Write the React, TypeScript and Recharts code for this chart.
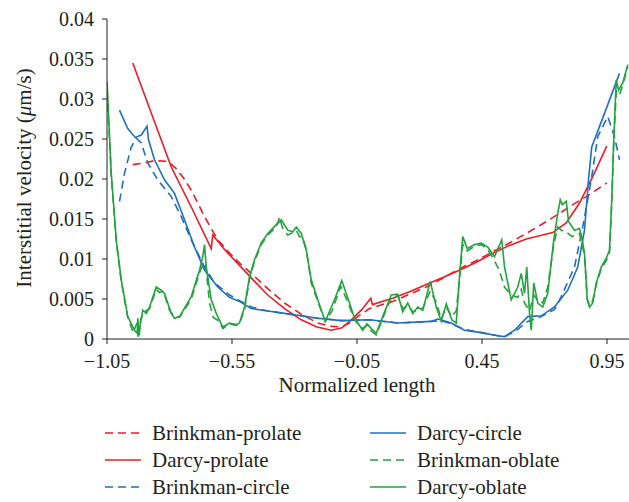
import { LineChart, Line, XAxis, YAxis, Label } from "recharts"

const RED = "#ec1c24"
const BLUE = "#1f6fbf"
const GREEN = "#22a33e"
const FONT = "'Liberation Serif', 'Times New Roman', serif"

const xTicks = [-1.05, -0.55, -0.05, 0.45, 0.95]
const yTicks = [0, 0.005, 0.01, 0.015, 0.02, 0.025, 0.03, 0.035, 0.04]

// Brinkman-prolate (red dashed)
const bpX = [-0.947, -0.9, -0.86, -0.807, -0.773, -0.743, -0.713, -0.687, -0.66, -0.633, -0.607, -0.567, -0.527, -0.473, -0.407, -0.34, -0.273, -0.207, -0.16, -0.113, -0.08, -0.047, 0.0, 0.093, 0.16, 0.227, 0.293, 0.36, 0.427, 0.493, 0.56, 0.627, 0.693, 0.76, 0.813, 0.867, 0.949]
const bpY = [0.0218, 0.022, 0.0223, 0.0222, 0.0213, 0.0201, 0.0186, 0.017, 0.0153, 0.0138, 0.0124, 0.011, 0.0097, 0.0082, 0.0063, 0.0045, 0.0031, 0.002, 0.0016, 0.0015, 0.002, 0.0028, 0.0038, 0.0047, 0.0056, 0.0065, 0.0076, 0.0088, 0.0098, 0.0109, 0.012, 0.0132, 0.0144, 0.0157, 0.0168, 0.0178, 0.0195]

// Darcy-prolate (red solid)
const dpX = [-0.947, -0.87, -0.793, -0.713, -0.633, -0.627, -0.58, -0.52, -0.46, -0.407, -0.34, -0.273, -0.21, -0.153, -0.11, -0.073, -0.03, 0.005, 0.012, 0.05, 0.093, 0.16, 0.227, 0.293, 0.36, 0.427, 0.493, 0.56, 0.627, 0.68, 0.733, 0.787, 0.84, 0.893, 0.949]
const dpY = [0.0345, 0.028, 0.0215, 0.0165, 0.0113, 0.013, 0.0112, 0.0092, 0.0072, 0.0055, 0.0038, 0.0024, 0.0015, 0.0011, 0.0014, 0.0024, 0.0037, 0.0051, 0.0043, 0.0047, 0.0051, 0.0059, 0.0068, 0.0077, 0.0086, 0.0096, 0.0107, 0.0117, 0.0125, 0.0129, 0.0133, 0.0145, 0.017, 0.0203, 0.0241]

// Brinkman-circle (blue dashed)
const bcX = [-1.0, -0.98, -0.953, -0.933, -0.913, -0.887, -0.847, -0.793, -0.753, -0.713, -0.66, -0.62, -0.56, -0.52, -0.473, -0.407, -0.34, -0.273, -0.207, -0.113, 0.0, 0.113, 0.247, 0.287, 0.327, 0.38, 0.447, 0.513, 0.54, 0.58, 0.633, 0.687, 0.74, 0.767, 0.82, 0.853, 0.887, 0.913, 0.953, 0.98, 1.0]
const bcY = [0.0172, 0.0207, 0.024, 0.0251, 0.0245, 0.022, 0.0199, 0.0178, 0.0153, 0.0124, 0.009, 0.007, 0.0055, 0.0048, 0.004, 0.0035, 0.0032, 0.0029, 0.0026, 0.0023, 0.0024, 0.002, 0.0022, 0.0023, 0.0019, 0.0012, 0.0008, 0.0004, 0.0003, 0.0009, 0.0022, 0.0028, 0.0037, 0.0053, 0.009, 0.014, 0.0199, 0.0253, 0.0278, 0.0253, 0.0224]

// Darcy-circle (blue solid)
const dcX = [-1.0, -0.967, -0.937, -0.913, -0.89, -0.884, -0.86, -0.82, -0.78, -0.74, -0.7, -0.66, -0.607, -0.56, -0.52, -0.473, -0.407, -0.34, -0.273, -0.207, -0.113, 0.0, 0.113, 0.247, 0.273, 0.327, 0.38, 0.447, 0.513, 0.54, 0.58, 0.633, 0.687, 0.74, 0.793, 0.833, 0.86, 0.876, 0.889, 0.94, 1.0]
const dcY = [0.0286, 0.0263, 0.0252, 0.0255, 0.0266, 0.0249, 0.0224, 0.0199, 0.0182, 0.0149, 0.0115, 0.0086, 0.0065, 0.0052, 0.0047, 0.0038, 0.0035, 0.0032, 0.0029, 0.0026, 0.0023, 0.0024, 0.002, 0.0022, 0.0025, 0.002, 0.0011, 0.0008, 0.0004, 0.0003, 0.0011, 0.0028, 0.0029, 0.004, 0.0061, 0.009, 0.0136, 0.0199, 0.024, 0.0282, 0.0332]

// Brinkman-oblate (green dashed)
const boX = [-1.05, -1.033, -1.013, -0.993, -0.967, -0.945, -0.93, -0.925, -0.915, -0.9, -0.88, -0.853, -0.84, -0.825, -0.8, -0.78, -0.76, -0.713, -0.68, -0.663, -0.655, -0.64, -0.625, -0.6, -0.587, -0.56, -0.533, -0.52, -0.5, -0.48, -0.46, -0.433, -0.407, -0.373, -0.36, -0.347, -0.327, -0.307, -0.293, -0.28, -0.265, -0.253, -0.233, -0.207, -0.177, -0.15, -0.115, -0.085, -0.06, -0.03, -0.01, 0.007, 0.027, 0.053, 0.087, 0.113, 0.133, 0.153, 0.173, 0.193, 0.213, 0.243, 0.267, 0.287, 0.307, 0.329, 0.347, 0.36, 0.373, 0.391, 0.42, 0.447, 0.473, 0.5, 0.52, 0.54, 0.567, 0.593, 0.607, 0.62, 0.64, 0.657, 0.673, 0.693, 0.713, 0.737, 0.753, 0.767, 0.787, 0.81, 0.84, 0.86, 0.871, 0.88, 0.893, 0.907, 0.927, 0.947, 0.96, 0.969, 0.977, 0.987, 1.0, 1.013, 1.033]
const boY = [0.031, 0.0205, 0.0122, 0.0072, 0.0027, 0.0008, 0.002, 0.0, 0.0025, 0.0034, 0.0038, 0.0062, 0.0058, 0.006, 0.0036, 0.0028, 0.0027, 0.005, 0.0083, 0.0095, 0.0093, 0.0045, 0.0027, 0.0022, 0.0013, 0.0019, 0.0017, 0.0019, 0.0037, 0.0075, 0.0097, 0.0118, 0.013, 0.014, 0.0152, 0.0138, 0.013, 0.0133, 0.0136, 0.0128, 0.0125, 0.0112, 0.007, 0.0047, 0.0022, 0.0035, 0.0066, 0.0045, 0.0024, 0.0013, 0.0017, 0.001, 0.0005, 0.0026, 0.0052, 0.0054, 0.0038, 0.0042, 0.0034, 0.0036, 0.0038, 0.006, 0.0046, 0.0025, 0.004, 0.0028, 0.0035, 0.0075, 0.0118, 0.011, 0.0116, 0.0118, 0.0112, 0.0098, 0.0085, 0.0065, 0.0055, 0.0052, 0.0062, 0.0045, 0.0035, 0.0055, 0.0048, 0.0045, 0.0065, 0.0118, 0.014, 0.0136, 0.0134, 0.0128, 0.0132, 0.0105, 0.005, 0.0042, 0.0048, 0.0068, 0.0088, 0.0098, 0.0108, 0.017, 0.0245, 0.031, 0.0305, 0.0318, 0.034]

// Darcy-oblate (green solid)
const doX = [-1.05, -1.033, -1.013, -0.993, -0.967, -0.94, -0.929, -0.927, -0.921, -0.916, -0.907, -0.893, -0.88, -0.853, -0.833, -0.82, -0.793, -0.78, -0.76, -0.713, -0.68, -0.667, -0.66, -0.653, -0.633, -0.613, -0.587, -0.56, -0.533, -0.52, -0.5, -0.48, -0.46, -0.433, -0.407, -0.373, -0.353, -0.327, -0.307, -0.293, -0.273, -0.253, -0.233, -0.207, -0.177, -0.14, -0.111, -0.08, -0.06, -0.027, -0.01, 0.007, 0.027, 0.053, 0.087, 0.113, 0.133, 0.153, 0.173, 0.193, 0.213, 0.243, 0.267, 0.287, 0.307, 0.329, 0.347, 0.36, 0.373, 0.391, 0.42, 0.447, 0.473, 0.5, 0.529, 0.54, 0.567, 0.593, 0.607, 0.62, 0.629, 0.64, 0.647, 0.657, 0.673, 0.693, 0.713, 0.737, 0.753, 0.763, 0.771, 0.787, 0.796, 0.82, 0.84, 0.849, 0.86, 0.871, 0.88, 0.893, 0.907, 0.927, 0.947, 0.96, 0.969, 0.977, 0.987, 0.996, 1.013, 1.033]
const doY = [0.0322, 0.0207, 0.0124, 0.0074, 0.0028, 0.0011, 0.0007, 0.0026, 0.0005, 0.002, 0.0036, 0.0032, 0.004, 0.0065, 0.0061, 0.0057, 0.0032, 0.0026, 0.0028, 0.0053, 0.0086, 0.0103, 0.0118, 0.009, 0.0049, 0.0032, 0.0015, 0.002, 0.0018, 0.002, 0.004, 0.0078, 0.0099, 0.012, 0.0132, 0.0143, 0.0149, 0.0136, 0.0134, 0.014, 0.0132, 0.0111, 0.0074, 0.0049, 0.0022, 0.0049, 0.0073, 0.0045, 0.0026, 0.0011, 0.0019, 0.0013, 0.0007, 0.0028, 0.0055, 0.0056, 0.0034, 0.0045, 0.0032, 0.004, 0.0036, 0.0072, 0.004, 0.0022, 0.0044, 0.0024, 0.002, 0.0078, 0.0128, 0.0113, 0.0118, 0.012, 0.0115, 0.0103, 0.0124, 0.009, 0.0049, 0.0065, 0.0082, 0.0057, 0.009, 0.0032, 0.0011, 0.007, 0.0045, 0.004, 0.0057, 0.0124, 0.0157, 0.0174, 0.0168, 0.0172, 0.0147, 0.0136, 0.0138, 0.0128, 0.0107, 0.0049, 0.004, 0.0045, 0.007, 0.009, 0.0101, 0.0111, 0.0174, 0.0249, 0.0324, 0.0311, 0.032, 0.0343]

const toPoints = (xs: number[], ys: number[]) => xs.map((x, i) => ({ x, v: ys[i] }))

const series = [
  { name: "Brinkman-prolate", color: RED, dashed: true, data: toPoints(bpX, bpY) },
  { name: "Darcy-prolate", color: RED, dashed: false, data: toPoints(dpX, dpY) },
  { name: "Brinkman-circle", color: BLUE, dashed: true, data: toPoints(bcX, bcY) },
  { name: "Darcy-circle", color: BLUE, dashed: false, data: toPoints(dcX, dcY) },
  { name: "Brinkman-oblate", color: GREEN, dashed: true, data: toPoints(boX, boY) },
  { name: "Darcy-oblate", color: GREEN, dashed: false, data: toPoints(doX, doY) },
]

const fmtX = (v: number) => (v < 0 ? "\u2212" + Math.abs(v).toFixed(2) : v.toFixed(2))
const fmtY = (v: number) => (v === 0 ? "0" : String(v))

const tickStyle = { fontSize: 20, fontFamily: FONT, fill: "#231f20" }

function LegendBlock() {
  const cols = [series.slice(0, 3), series.slice(3, 6)]
  const colX = [105, 370]
  const rowY = [433, 460, 487]
  return (
    <>
      {cols.map((col, ci) =>
        col.map((s, ri) => (
          <div
            key={s.name}
            style={{ position: "absolute", left: colX[ci], top: rowY[ri] - 12, height: 24, display: "flex", alignItems: "center" }}
          >
            <svg width={36} height={4} style={{ display: "block" }}>
              <line x1={0} y1={2} x2={36} y2={2} stroke={s.color} strokeWidth={1.6} strokeDasharray={s.dashed ? "8 5" : undefined} />
            </svg>
            <span style={{ marginLeft: 11, fontFamily: FONT, fontSize: 21, color: "#231f20", lineHeight: "24px", whiteSpace: "nowrap" }}>
              {s.name}
            </span>
          </div>
        ))
      )}
    </>
  )
}

export default function App() {
  return (
    <div style={{ position: "absolute", left: 0, top: 0, width: 629, height: 502, background: "#fff" }}>
      <LineChart width={629} height={502} margin={{ top: 19, right: 0, bottom: 133, left: 0 }}>
        <XAxis
          dataKey="x"
          type="number"
          domain={[-1.05, 1.038]}
          ticks={xTicks}
          tickFormatter={fmtX}
          allowDataOverflow
          height={30}
          stroke="#231f20"
          tickSize={5}
          tickMargin={10}
          tick={tickStyle}
        >
          <Label
            content={() => (
              <text x={357} y={392} textAnchor="middle" fontFamily={FONT} fontSize={21} fill="#231f20">
                Normalized length
              </text>
            )}
          />
        </XAxis>
        <YAxis
          type="number"
          domain={[0, 0.04]}
          ticks={yTicks}
          tickFormatter={fmtY}
          width={107}
          stroke="#231f20"
          tickSize={5}
          tickMargin={8}
          tick={tickStyle}
        >
          <Label
            content={() => (
              <text transform="translate(31,178) rotate(-90)" textAnchor="middle" fontFamily={FONT} fontSize={21} fill="#231f20">
                Interstitial velocity (<tspan fontStyle="italic">μ</tspan>m/s)
              </text>
            )}
          />
        </YAxis>
        {series.map((s) => (
          <Line
            key={s.name}
            data={s.data}
            dataKey="v"
            name={s.name}
            type="linear"
            stroke={s.color}
            strokeWidth={1.6}
            strokeDasharray={s.dashed ? "8 5" : undefined}
            dot={false}
            activeDot={false}
            isAnimationActive={false}
          />
        ))}
      </LineChart>
      <LegendBlock />
    </div>
  )
}
